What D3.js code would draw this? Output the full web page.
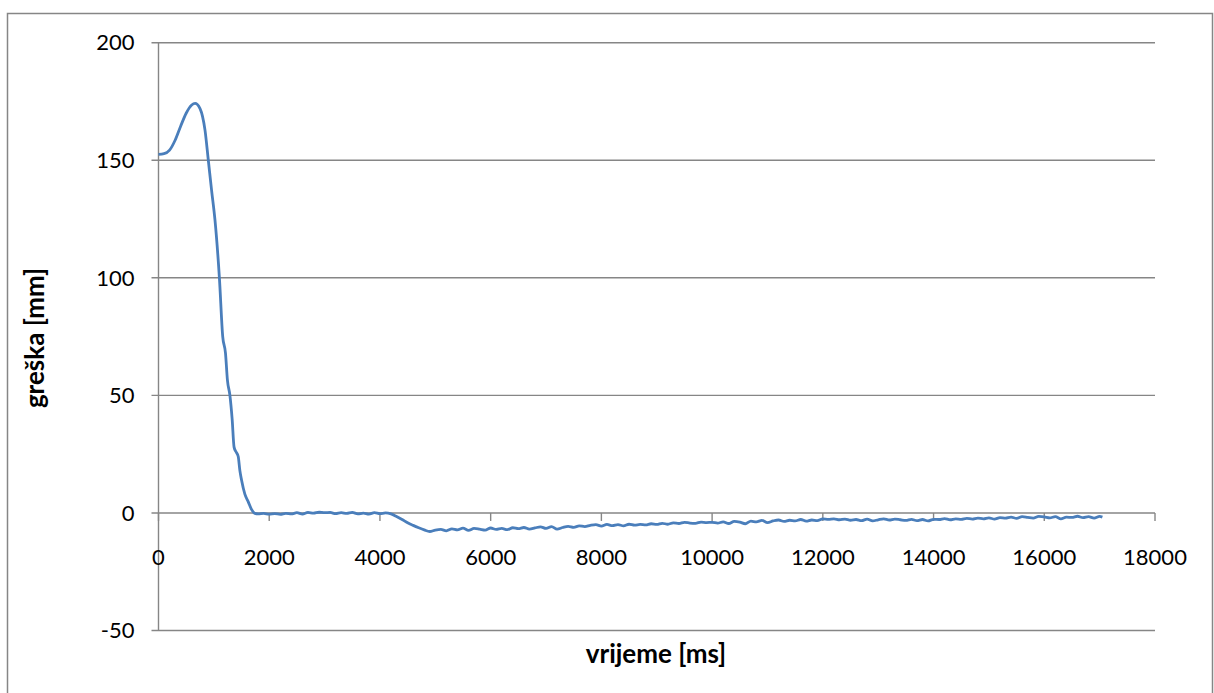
<!DOCTYPE html>
<html><head><meta charset="utf-8">
<script src="https://cdn.jsdelivr.net/npm/d3@7"></script>
<style>body{margin:0;background:#fff;}svg{display:block;}</style>
</head><body>
<svg id="c" width="1214" height="693"></svg>
<script>
// ---- data ----
const xTicks = [0,2000,4000,6000,8000,10000,12000,14000,16000,18000];
const yTicks = [-50,0,50,100,150,200];
const xTitle = "vrijeme [ms]";
const yTitle = "greška [mm]";
const timeMs = [0,100,200,300,400,500,600,660,750,840,900,960,1020,1100,1160,1210,1245,1290,1330,1365,1400,1440,1470,1500,1560,1620,1680,1740,
1800,1900,2000,2100,2200,2300,2400,2500,2600,2700,2800,2900,3000,3100,3200,3300,3400,3500,3600,3700,3800,3900,
4000,4100,4200,4300,4400,4500,4600,4700,4800,4900,5000,5100,5200,5300,5400,5500,5600,5700,5800,5900,
6000,6100,6200,6300,6400,6500,6600,6700,6800,6900,7000,7100,7200,7300,7400,7500,7600,7700,7800,7900,
8000,8100,8200,8300,8400,8500,8600,8700,8800,8900,9000,9100,9200,9300,9400,9500,9600,9700,9800,9900,
10000,10100,10200,10300,10400,10500,10600,10700,10800,10900,11000,11100,11200,11300,11400,11500,11600,11700,11800,11900,
12000,12100,12200,12300,12400,12500,12600,12700,12800,12900,13000,13100,13200,13300,13400,13500,13600,13700,13800,13900,
14000,14100,14200,14300,14400,14500,14600,14700,14800,14900,15000,15100,15200,15300,15400,15500,15600,15700,15800,15900,
16000,16100,16200,16300,16400,16500,16600,16700,16800,16900,17000,17050];
const errorMm = [152.5,152.8,154.3,158.5,164.5,170,173.5,174.2,172,162.8,150,137,124.6,100,75,68,56.5,50,40,28,26,24,18,14,8,4.8,1.5,-0.2,
-0.4,-0.2,-0.5,-0.3,-0.6,-0.2,-0.4,0.1,-0.5,0.2,-0.1,0.3,0.1,0.2,-0.3,0.1,-0.2,0.2,-0.4,-0.1,-0.5,0.1,
-0.3,0.0,-0.4,-1.5,-2.8,-4.2,-5.3,-6.3,-7.2,-7.9,-7.3,-7.0,-7.6,-6.8,-7.2,-6.5,-7.4,-6.6,-6.9,-7.3,
-6.4,-7.0,-6.6,-7.1,-6.3,-6.7,-6.2,-6.9,-6.4,-5.9,-6.6,-5.8,-6.9,-6.2,-5.7,-6.1,-5.5,-5.8,-5.3,-5.0,
-5.6,-4.9,-5.4,-5.0,-5.5,-4.8,-5.2,-4.9,-5.1,-4.6,-4.9,-4.4,-4.8,-4.2,-4.5,-4.0,-4.3,-4.4,-3.9,-4.1,
-4.0,-4.3,-3.8,-4.5,-3.6,-3.9,-4.6,-3.5,-3.8,-3.2,-4.1,-3.4,-3.0,-3.6,-3.1,-3.4,-2.8,-3.5,-3.0,-3.3,
-2.5,-2.7,-2.5,-2.9,-2.6,-3.1,-2.8,-3.3,-2.6,-3.4,-2.9,-2.5,-3.0,-2.6,-2.9,-3.2,-2.7,-3.3,-2.8,-3.4,
-2.7,-2.8,-2.4,-2.9,-2.5,-2.7,-2.3,-2.6,-2.2,-2.5,-2.1,-2.6,-2.0,-2.2,-1.8,-2.3,-1.6,-1.9,-2.2,-1.5,
-1.7,-2.1,-1.6,-2.5,-1.8,-1.9,-1.4,-2.0,-1.6,-2.2,-1.5,-1.8];

// ---- drawing ----
const svg = d3.select("#c");
const L = 158.5, R = 1155, T = 42.7, B = 630.5;
const x = d3.scaleLinear().domain([0,18000]).range([L,R]);
const y = d3.scaleLinear().domain([-50,200]).range([B,T]);
const grey = "#868686";
const font = "Lato, 'Liberation Sans', sans-serif";

// outer border
svg.append("rect").attr("x",7.5).attr("y",13.5).attr("width",1205).attr("height",700)
  .attr("fill","none").attr("stroke",grey).attr("stroke-width",1.5);

// horizontal gridlines (with left tick marks)
svg.append("g").selectAll("line").data(yTicks).join("line")
  .attr("x1",L-7).attr("x2",R)
  .attr("y1",d=>y(d)).attr("y2",d=>y(d))
  .attr("stroke",grey).attr("stroke-width",1.4);

// y axis line
svg.append("line").attr("x1",L).attr("x2",L).attr("y1",T).attr("y2",B)
  .attr("stroke",grey).attr("stroke-width",1.4);

// x axis ticks (downward from 0 line)
svg.append("g").selectAll("line").data(xTicks).join("line")
  .attr("x1",d=>x(d)).attr("x2",d=>x(d))
  .attr("y1",y(0)).attr("y2",y(0)+8)
  .attr("stroke",grey).attr("stroke-width",1.4);

// y tick labels
svg.append("g").selectAll("text").data(yTicks).join("text")
  .attr("x",L-24).attr("y",d=>y(d)).attr("dy","0.35em")
  .attr("text-anchor","end").attr("font-family",font).attr("font-size",22)
  .attr("fill","#000").text(d=>d);

// x tick labels
svg.append("g").selectAll("text").data(xTicks).join("text")
  .attr("x",d=>x(d)).attr("y",557).attr("dy","0.35em")
  .attr("text-anchor","middle").attr("font-family",font).attr("font-size",22)
  .attr("fill","#000").text(d=>d);

// axis titles
svg.append("text").attr("x",656).attr("y",654).attr("dy","0.35em")
  .attr("text-anchor","middle").attr("font-family",font).attr("font-weight","bold")
  .attr("font-size",26).text(xTitle);
svg.append("text").attr("transform",`translate(35,338) rotate(-90)`)
  .attr("dy","0.35em").attr("text-anchor","middle").attr("font-family",font)
  .attr("font-weight","bold").attr("font-size",26).text(yTitle);

// data line
const pts = timeMs.map((t,i)=>[t,errorMm[i]]);
svg.append("path").datum(pts)
  .attr("d",d3.line().x(d=>x(d[0])).y(d=>y(d[1])).curve(d3.curveMonotoneX))
  .attr("fill","none").attr("stroke","#4a7ebb").attr("stroke-width",2.8)
  .attr("stroke-linejoin","round");
</script>
</body></html>
